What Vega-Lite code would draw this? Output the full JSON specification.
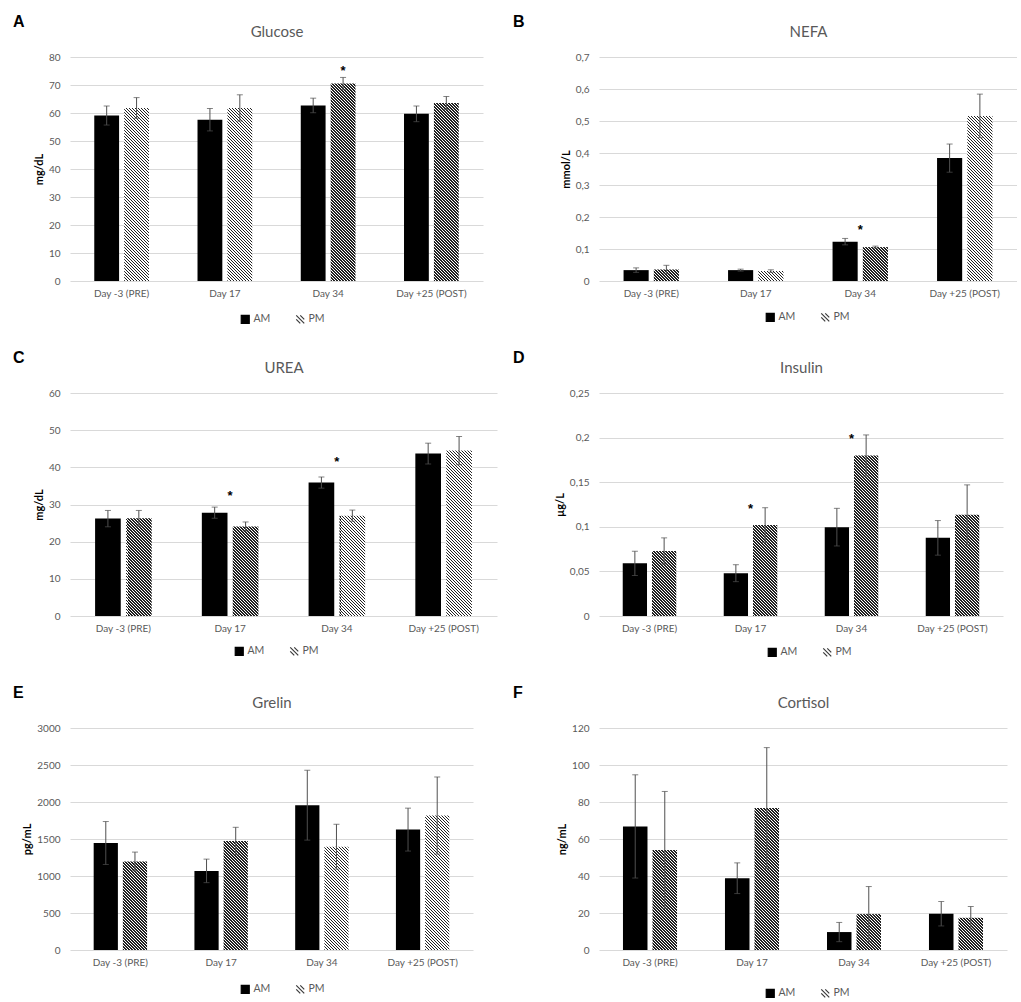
{
  "$schema": "https://vega.github.io/schema/vega-lite/v6.json",
  "padding": {"left": 13, "top": 14, "right": 0, "bottom": 0},
  "autosize": {"type": "pad"},
  "params": [
    {
      "name": "hatch",
      "value": [
        {"offset":0,"color":"#222"},{"offset":0.005,"color":"#222"},{"offset":0.005,"color":"#fff"},{"offset":0.01,"color":"#fff"},
        {"offset":0.01,"color":"#222"},{"offset":0.015,"color":"#222"},{"offset":0.015,"color":"#fff"},{"offset":0.02,"color":"#fff"},
        {"offset":0.02,"color":"#222"},{"offset":0.025,"color":"#222"},{"offset":0.025,"color":"#fff"},{"offset":0.03,"color":"#fff"},
        {"offset":0.03,"color":"#222"},{"offset":0.035,"color":"#222"},{"offset":0.035,"color":"#fff"},{"offset":0.04,"color":"#fff"},
        {"offset":0.04,"color":"#222"},{"offset":0.045,"color":"#222"},{"offset":0.045,"color":"#fff"},{"offset":0.05,"color":"#fff"},
        {"offset":0.05,"color":"#222"},{"offset":0.055,"color":"#222"},{"offset":0.055,"color":"#fff"},{"offset":0.06,"color":"#fff"},
        {"offset":0.06,"color":"#222"},{"offset":0.065,"color":"#222"},{"offset":0.065,"color":"#fff"},{"offset":0.07,"color":"#fff"},
        {"offset":0.07,"color":"#222"},{"offset":0.075,"color":"#222"},{"offset":0.075,"color":"#fff"},{"offset":0.08,"color":"#fff"},
        {"offset":0.08,"color":"#222"},{"offset":0.085,"color":"#222"},{"offset":0.085,"color":"#fff"},{"offset":0.09,"color":"#fff"},
        {"offset":0.09,"color":"#222"},{"offset":0.095,"color":"#222"},{"offset":0.095,"color":"#fff"},{"offset":0.1,"color":"#fff"},
        {"offset":0.1,"color":"#222"},{"offset":0.105,"color":"#222"},{"offset":0.105,"color":"#fff"},{"offset":0.11,"color":"#fff"},
        {"offset":0.11,"color":"#222"},{"offset":0.115,"color":"#222"},{"offset":0.115,"color":"#fff"},{"offset":0.12,"color":"#fff"},
        {"offset":0.12,"color":"#222"},{"offset":0.125,"color":"#222"},{"offset":0.125,"color":"#fff"},{"offset":0.13,"color":"#fff"},
        {"offset":0.13,"color":"#222"},{"offset":0.135,"color":"#222"},{"offset":0.135,"color":"#fff"},{"offset":0.14,"color":"#fff"},
        {"offset":0.14,"color":"#222"},{"offset":0.145,"color":"#222"},{"offset":0.145,"color":"#fff"},{"offset":0.15,"color":"#fff"},
        {"offset":0.15,"color":"#222"},{"offset":0.155,"color":"#222"},{"offset":0.155,"color":"#fff"},{"offset":0.16,"color":"#fff"},
        {"offset":0.16,"color":"#222"},{"offset":0.165,"color":"#222"},{"offset":0.165,"color":"#fff"},{"offset":0.17,"color":"#fff"},
        {"offset":0.17,"color":"#222"},{"offset":0.175,"color":"#222"},{"offset":0.175,"color":"#fff"},{"offset":0.18,"color":"#fff"},
        {"offset":0.18,"color":"#222"},{"offset":0.185,"color":"#222"},{"offset":0.185,"color":"#fff"},{"offset":0.19,"color":"#fff"},
        {"offset":0.19,"color":"#222"},{"offset":0.195,"color":"#222"},{"offset":0.195,"color":"#fff"},{"offset":0.2,"color":"#fff"},
        {"offset":0.2,"color":"#222"},{"offset":0.205,"color":"#222"},{"offset":0.205,"color":"#fff"},{"offset":0.21,"color":"#fff"},
        {"offset":0.21,"color":"#222"},{"offset":0.215,"color":"#222"},{"offset":0.215,"color":"#fff"},{"offset":0.22,"color":"#fff"},
        {"offset":0.22,"color":"#222"},{"offset":0.225,"color":"#222"},{"offset":0.225,"color":"#fff"},{"offset":0.23,"color":"#fff"},
        {"offset":0.23,"color":"#222"},{"offset":0.235,"color":"#222"},{"offset":0.235,"color":"#fff"},{"offset":0.24,"color":"#fff"},
        {"offset":0.24,"color":"#222"},{"offset":0.245,"color":"#222"},{"offset":0.245,"color":"#fff"},{"offset":0.25,"color":"#fff"},
        {"offset":0.25,"color":"#222"},{"offset":0.255,"color":"#222"},{"offset":0.255,"color":"#fff"},{"offset":0.26,"color":"#fff"},
        {"offset":0.26,"color":"#222"},{"offset":0.265,"color":"#222"},{"offset":0.265,"color":"#fff"},{"offset":0.27,"color":"#fff"},
        {"offset":0.27,"color":"#222"},{"offset":0.275,"color":"#222"},{"offset":0.275,"color":"#fff"},{"offset":0.28,"color":"#fff"},
        {"offset":0.28,"color":"#222"},{"offset":0.285,"color":"#222"},{"offset":0.285,"color":"#fff"},{"offset":0.29,"color":"#fff"},
        {"offset":0.29,"color":"#222"},{"offset":0.295,"color":"#222"},{"offset":0.295,"color":"#fff"},{"offset":0.3,"color":"#fff"},
        {"offset":0.3,"color":"#222"},{"offset":0.305,"color":"#222"},{"offset":0.305,"color":"#fff"},{"offset":0.31,"color":"#fff"},
        {"offset":0.31,"color":"#222"},{"offset":0.315,"color":"#222"},{"offset":0.315,"color":"#fff"},{"offset":0.32,"color":"#fff"},
        {"offset":0.32,"color":"#222"},{"offset":0.325,"color":"#222"},{"offset":0.325,"color":"#fff"},{"offset":0.33,"color":"#fff"},
        {"offset":0.33,"color":"#222"},{"offset":0.335,"color":"#222"},{"offset":0.335,"color":"#fff"},{"offset":0.34,"color":"#fff"},
        {"offset":0.34,"color":"#222"},{"offset":0.345,"color":"#222"},{"offset":0.345,"color":"#fff"},{"offset":0.35,"color":"#fff"},
        {"offset":0.35,"color":"#222"},{"offset":0.355,"color":"#222"},{"offset":0.355,"color":"#fff"},{"offset":0.36,"color":"#fff"},
        {"offset":0.36,"color":"#222"},{"offset":0.365,"color":"#222"},{"offset":0.365,"color":"#fff"},{"offset":0.37,"color":"#fff"},
        {"offset":0.37,"color":"#222"},{"offset":0.375,"color":"#222"},{"offset":0.375,"color":"#fff"},{"offset":0.38,"color":"#fff"},
        {"offset":0.38,"color":"#222"},{"offset":0.385,"color":"#222"},{"offset":0.385,"color":"#fff"},{"offset":0.39,"color":"#fff"},
        {"offset":0.39,"color":"#222"},{"offset":0.395,"color":"#222"},{"offset":0.395,"color":"#fff"},{"offset":0.4,"color":"#fff"},
        {"offset":0.4,"color":"#222"},{"offset":0.405,"color":"#222"},{"offset":0.405,"color":"#fff"},{"offset":0.41,"color":"#fff"},
        {"offset":0.41,"color":"#222"},{"offset":0.415,"color":"#222"},{"offset":0.415,"color":"#fff"},{"offset":0.42,"color":"#fff"},
        {"offset":0.42,"color":"#222"},{"offset":0.425,"color":"#222"},{"offset":0.425,"color":"#fff"},{"offset":0.43,"color":"#fff"},
        {"offset":0.43,"color":"#222"},{"offset":0.435,"color":"#222"},{"offset":0.435,"color":"#fff"},{"offset":0.44,"color":"#fff"},
        {"offset":0.44,"color":"#222"},{"offset":0.445,"color":"#222"},{"offset":0.445,"color":"#fff"},{"offset":0.45,"color":"#fff"},
        {"offset":0.45,"color":"#222"},{"offset":0.455,"color":"#222"},{"offset":0.455,"color":"#fff"},{"offset":0.46,"color":"#fff"},
        {"offset":0.46,"color":"#222"},{"offset":0.465,"color":"#222"},{"offset":0.465,"color":"#fff"},{"offset":0.47,"color":"#fff"},
        {"offset":0.47,"color":"#222"},{"offset":0.475,"color":"#222"},{"offset":0.475,"color":"#fff"},{"offset":0.48,"color":"#fff"},
        {"offset":0.48,"color":"#222"},{"offset":0.485,"color":"#222"},{"offset":0.485,"color":"#fff"},{"offset":0.49,"color":"#fff"},
        {"offset":0.49,"color":"#222"},{"offset":0.495,"color":"#222"},{"offset":0.495,"color":"#fff"},{"offset":0.5,"color":"#fff"},
        {"offset":0.5,"color":"#222"},{"offset":0.505,"color":"#222"},{"offset":0.505,"color":"#fff"},{"offset":0.51,"color":"#fff"},
        {"offset":0.51,"color":"#222"},{"offset":0.515,"color":"#222"},{"offset":0.515,"color":"#fff"},{"offset":0.52,"color":"#fff"},
        {"offset":0.52,"color":"#222"},{"offset":0.525,"color":"#222"},{"offset":0.525,"color":"#fff"},{"offset":0.53,"color":"#fff"},
        {"offset":0.53,"color":"#222"},{"offset":0.535,"color":"#222"},{"offset":0.535,"color":"#fff"},{"offset":0.54,"color":"#fff"},
        {"offset":0.54,"color":"#222"},{"offset":0.545,"color":"#222"},{"offset":0.545,"color":"#fff"},{"offset":0.55,"color":"#fff"},
        {"offset":0.55,"color":"#222"},{"offset":0.555,"color":"#222"},{"offset":0.555,"color":"#fff"},{"offset":0.56,"color":"#fff"},
        {"offset":0.56,"color":"#222"},{"offset":0.565,"color":"#222"},{"offset":0.565,"color":"#fff"},{"offset":0.57,"color":"#fff"},
        {"offset":0.57,"color":"#222"},{"offset":0.575,"color":"#222"},{"offset":0.575,"color":"#fff"},{"offset":0.58,"color":"#fff"},
        {"offset":0.58,"color":"#222"},{"offset":0.585,"color":"#222"},{"offset":0.585,"color":"#fff"},{"offset":0.59,"color":"#fff"},
        {"offset":0.59,"color":"#222"},{"offset":0.595,"color":"#222"},{"offset":0.595,"color":"#fff"},{"offset":0.6,"color":"#fff"},
        {"offset":0.6,"color":"#222"},{"offset":0.605,"color":"#222"},{"offset":0.605,"color":"#fff"},{"offset":0.61,"color":"#fff"},
        {"offset":0.61,"color":"#222"},{"offset":0.615,"color":"#222"},{"offset":0.615,"color":"#fff"},{"offset":0.62,"color":"#fff"},
        {"offset":0.62,"color":"#222"},{"offset":0.625,"color":"#222"},{"offset":0.625,"color":"#fff"},{"offset":0.63,"color":"#fff"},
        {"offset":0.63,"color":"#222"},{"offset":0.635,"color":"#222"},{"offset":0.635,"color":"#fff"},{"offset":0.64,"color":"#fff"},
        {"offset":0.64,"color":"#222"},{"offset":0.645,"color":"#222"},{"offset":0.645,"color":"#fff"},{"offset":0.65,"color":"#fff"},
        {"offset":0.65,"color":"#222"},{"offset":0.655,"color":"#222"},{"offset":0.655,"color":"#fff"},{"offset":0.66,"color":"#fff"},
        {"offset":0.66,"color":"#222"},{"offset":0.665,"color":"#222"},{"offset":0.665,"color":"#fff"},{"offset":0.67,"color":"#fff"},
        {"offset":0.67,"color":"#222"},{"offset":0.675,"color":"#222"},{"offset":0.675,"color":"#fff"},{"offset":0.68,"color":"#fff"},
        {"offset":0.68,"color":"#222"},{"offset":0.685,"color":"#222"},{"offset":0.685,"color":"#fff"},{"offset":0.69,"color":"#fff"},
        {"offset":0.69,"color":"#222"},{"offset":0.695,"color":"#222"},{"offset":0.695,"color":"#fff"},{"offset":0.7,"color":"#fff"},
        {"offset":0.7,"color":"#222"},{"offset":0.705,"color":"#222"},{"offset":0.705,"color":"#fff"},{"offset":0.71,"color":"#fff"},
        {"offset":0.71,"color":"#222"},{"offset":0.715,"color":"#222"},{"offset":0.715,"color":"#fff"},{"offset":0.72,"color":"#fff"},
        {"offset":0.72,"color":"#222"},{"offset":0.725,"color":"#222"},{"offset":0.725,"color":"#fff"},{"offset":0.73,"color":"#fff"},
        {"offset":0.73,"color":"#222"},{"offset":0.735,"color":"#222"},{"offset":0.735,"color":"#fff"},{"offset":0.74,"color":"#fff"},
        {"offset":0.74,"color":"#222"},{"offset":0.745,"color":"#222"},{"offset":0.745,"color":"#fff"},{"offset":0.75,"color":"#fff"},
        {"offset":0.75,"color":"#222"},{"offset":0.755,"color":"#222"},{"offset":0.755,"color":"#fff"},{"offset":0.76,"color":"#fff"},
        {"offset":0.76,"color":"#222"},{"offset":0.765,"color":"#222"},{"offset":0.765,"color":"#fff"},{"offset":0.77,"color":"#fff"},
        {"offset":0.77,"color":"#222"},{"offset":0.775,"color":"#222"},{"offset":0.775,"color":"#fff"},{"offset":0.78,"color":"#fff"},
        {"offset":0.78,"color":"#222"},{"offset":0.785,"color":"#222"},{"offset":0.785,"color":"#fff"},{"offset":0.79,"color":"#fff"},
        {"offset":0.79,"color":"#222"},{"offset":0.795,"color":"#222"},{"offset":0.795,"color":"#fff"},{"offset":0.8,"color":"#fff"}
      ]
    }
  ],
  "datasets": {
    "glucose": [
      {"day": "Day -3 (PRE)", "time": "AM", "value": 59.1, "lo": 55.7, "hi": 62.5},
      {"day": "Day -3 (PRE)", "time": "PM", "value": 61.8, "lo": 58.1, "hi": 65.5},
      {"day": "Day 17", "time": "AM", "value": 57.6, "lo": 53.6, "hi": 61.6},
      {"day": "Day 17", "time": "PM", "value": 61.8, "lo": 57.1, "hi": 66.5},
      {"day": "Day 34", "time": "AM", "value": 62.7, "lo": 60.1, "hi": 65.3},
      {"day": "Day 34", "time": "PM", "value": 70.5, "lo": 68.3, "hi": 72.7},
      {"day": "Day +25 (POST)", "time": "AM", "value": 59.7, "lo": 56.9, "hi": 62.5},
      {"day": "Day +25 (POST)", "time": "PM", "value": 63.6, "lo": 61.3, "hi": 65.9}
    ],
    "nefa": [
      {"day": "Day -3 (PRE)", "time": "AM", "value": 0.034, "lo": 0.027, "hi": 0.041},
      {"day": "Day -3 (PRE)", "time": "PM", "value": 0.036, "lo": 0.023, "hi": 0.049},
      {"day": "Day 17", "time": "AM", "value": 0.034, "lo": 0.031, "hi": 0.037},
      {"day": "Day 17", "time": "PM", "value": 0.031, "lo": 0.027, "hi": 0.035},
      {"day": "Day 34", "time": "AM", "value": 0.123, "lo": 0.113, "hi": 0.133},
      {"day": "Day 34", "time": "PM", "value": 0.106, "lo": 0.103, "hi": 0.109},
      {"day": "Day +25 (POST)", "time": "AM", "value": 0.384, "lo": 0.34, "hi": 0.428},
      {"day": "Day +25 (POST)", "time": "PM", "value": 0.516, "lo": 0.448, "hi": 0.584}
    ],
    "urea": [
      {"day": "Day -3 (PRE)", "time": "AM", "value": 26.2, "lo": 24.0, "hi": 28.4},
      {"day": "Day -3 (PRE)", "time": "PM", "value": 26.3, "lo": 24.2, "hi": 28.4},
      {"day": "Day 17", "time": "AM", "value": 27.8, "lo": 26.3, "hi": 29.3},
      {"day": "Day 17", "time": "PM", "value": 24.1, "lo": 22.9, "hi": 25.3},
      {"day": "Day 34", "time": "AM", "value": 35.9, "lo": 34.4, "hi": 37.4},
      {"day": "Day 34", "time": "PM", "value": 27.0, "lo": 25.5, "hi": 28.5},
      {"day": "Day +25 (POST)", "time": "AM", "value": 43.7, "lo": 40.9, "hi": 46.5},
      {"day": "Day +25 (POST)", "time": "PM", "value": 44.5, "lo": 40.7, "hi": 48.3}
    ],
    "insulin": [
      {"day": "Day -3 (PRE)", "time": "AM", "value": 0.059, "lo": 0.0454, "hi": 0.0726},
      {"day": "Day -3 (PRE)", "time": "PM", "value": 0.0729, "lo": 0.0582, "hi": 0.0876},
      {"day": "Day 17", "time": "AM", "value": 0.048, "lo": 0.0385, "hi": 0.0575},
      {"day": "Day 17", "time": "PM", "value": 0.1019, "lo": 0.0824, "hi": 0.1214},
      {"day": "Day 34", "time": "AM", "value": 0.0996, "lo": 0.0785, "hi": 0.1207},
      {"day": "Day 34", "time": "PM", "value": 0.18, "lo": 0.157, "hi": 0.203},
      {"day": "Day +25 (POST)", "time": "AM", "value": 0.0876, "lo": 0.0682, "hi": 0.107},
      {"day": "Day +25 (POST)", "time": "PM", "value": 0.1135, "lo": 0.08, "hi": 0.147}
    ],
    "grelin": [
      {"day": "Day -3 (PRE)", "time": "AM", "value": 1446, "lo": 1156, "hi": 1736},
      {"day": "Day -3 (PRE)", "time": "PM", "value": 1196, "lo": 1069, "hi": 1323},
      {"day": "Day 17", "time": "AM", "value": 1069, "lo": 910, "hi": 1228},
      {"day": "Day 17", "time": "PM", "value": 1473, "lo": 1288, "hi": 1658},
      {"day": "Day 34", "time": "AM", "value": 1957, "lo": 1485, "hi": 2429},
      {"day": "Day 34", "time": "PM", "value": 1396, "lo": 1093, "hi": 1699},
      {"day": "Day +25 (POST)", "time": "AM", "value": 1627, "lo": 1337, "hi": 1917},
      {"day": "Day +25 (POST)", "time": "PM", "value": 1817, "lo": 1296, "hi": 2338}
    ],
    "cortisol": [
      {"day": "Day -3 (PRE)", "time": "AM", "value": 66.8, "lo": 38.9, "hi": 94.7},
      {"day": "Day -3 (PRE)", "time": "PM", "value": 54.1, "lo": 22.5, "hi": 85.7},
      {"day": "Day 17", "time": "AM", "value": 38.8, "lo": 30.5, "hi": 47.1},
      {"day": "Day 17", "time": "PM", "value": 76.7, "lo": 44.0, "hi": 109.4},
      {"day": "Day 34", "time": "AM", "value": 9.7, "lo": 4.5, "hi": 14.9},
      {"day": "Day 34", "time": "PM", "value": 19.4, "lo": 4.5, "hi": 34.3},
      {"day": "Day +25 (POST)", "time": "AM", "value": 19.6, "lo": 13.0, "hi": 26.2},
      {"day": "Day +25 (POST)", "time": "PM", "value": 17.4, "lo": 11.3, "hi": 23.5}
    ],
    "stars": [
      {"panel": "glucose", "day": "Day 34", "time": "PM", "value": 75.9},
      {"panel": "nefa", "day": "Day 34", "time": "PM", "value": 0.17},
      {"panel": "urea", "day": "Day 17", "time": "PM", "value": 33.2},
      {"panel": "urea", "day": "Day 34", "time": "PM", "value": 42.2},
      {"panel": "insulin", "day": "Day 17", "time": "PM", "value": 0.123},
      {"panel": "insulin", "day": "Day 34", "time": "PM", "value": 0.2015}
    ]
  },
  "concat": [
    {
      "title": {"text": "A", "dx": -57},
      "width": 413,
      "height": 224,
      "data": {"name": "glucose"},
      "layer": [
        {
          "mark": {"type": "bar"},
          "encoding": {
            "x": {"field": "day", "type": "nominal", "scale": {"domain": ["Day -3 (PRE)", "Day 17", "Day 34", "Day +25 (POST)"], "paddingInner": 0.47, "paddingOuter": 0.235}, "axis": {"orient": "bottom", "title": null}},
            "xOffset": {"field": "time", "type": "nominal", "scale": {"domain": ["AM", "PM"], "paddingInner": 0.17, "paddingOuter": 0}},
            "y": {"field": "value", "type": "quantitative", "scale": {"domain": [0, 80], "nice": false}, "axis": {"title": "mg/dL", "values": [0, 10, 20, 30, 40, 50, 60, 70, 80], "labelExpr": "replace(format(datum.value, ''), '.', ',')"}},
            "fill": {"field": "time", "type": "nominal", "scale": {"domain": ["AM", "PM"], "range": ["#000000", "transparent"]}, "legend": {"title": null, "legendX": 170, "legendY": 257}}
          }
        },
        {
          "transform": [{"filter": "datum.time === 'PM'"}],
          "mark": {"type": "bar", "fill": {"expr": "{gradient: 'linear', x1: 0, y1: 1, x2: 300*24.8/(615.04+pow(datum.value*2.8,2)), y2: 1-300*datum.value*2.8/(615.04+pow(datum.value*2.8,2)), stops: hatch}"}},
          "encoding": {
            "x": {"field": "day", "type": "nominal", "axis": {"orient": "top", "title": "Glucose", "labels": false}},
            "xOffset": {"field": "time", "type": "nominal"},
            "y": {"field": "value", "type": "quantitative", "axis": {"title": "mg/dL", "values": [0, 10, 20, 30, 40, 50, 60, 70, 80], "labelExpr": "replace(format(datum.value, ''), '.', ',')"}}
          }
        },
        {
          "mark": {"type": "rule", "color": "#505050"},
          "encoding": {
            "x": {"field": "day", "type": "nominal", "axis": null},
            "xOffset": {"field": "time", "type": "nominal"},
            "y": {"field": "lo", "type": "quantitative", "axis": {"title": "mg/dL", "values": [0, 10, 20, 30, 40, 50, 60, 70, 80], "labelExpr": "replace(format(datum.value, ''), '.', ',')"}},
            "y2": {"field": "hi"}
          }
        },
        {
          "mark": {"type": "tick", "size": 6, "thickness": 1, "color": "#505050"},
          "encoding": {
            "x": {"field": "day", "type": "nominal", "axis": null},
            "xOffset": {"field": "time", "type": "nominal"},
            "y": {"field": "hi", "type": "quantitative", "axis": {"title": "mg/dL", "values": [0, 10, 20, 30, 40, 50, 60, 70, 80], "labelExpr": "replace(format(datum.value, ''), '.', ',')"}}
          }
        },
        {
          "mark": {"type": "tick", "size": 6, "thickness": 1, "color": "#505050"},
          "encoding": {
            "x": {"field": "day", "type": "nominal", "axis": null},
            "xOffset": {"field": "time", "type": "nominal"},
            "y": {"field": "lo", "type": "quantitative", "axis": {"title": "mg/dL", "values": [0, 10, 20, 30, 40, 50, 60, 70, 80], "labelExpr": "replace(format(datum.value, ''), '.', ',')"}}
          }
        },
        {
          "data": {"name": "stars"},
          "transform": [{"filter": "datum.panel === 'glucose'"}],
          "mark": {"type": "text", "text": "*", "font": "Liberation Sans", "fontSize": 13, "fontWeight": "bold", "dy": 3, "color": "#000000"},
          "encoding": {
            "x": {"field": "day", "type": "nominal", "axis": null},
            "xOffset": {"field": "time", "type": "nominal"},
            "y": {"field": "value", "type": "quantitative", "axis": {"title": "mg/dL", "values": [0, 10, 20, 30, 40, 50, 60, 70, 80], "labelExpr": "replace(format(datum.value, ''), '.', ',')"}}
          }
        },
        {
          "transform": [{"filter": "false"}],
          "mark": {"type": "point"},
          "encoding": {
            "x": {"field": "day", "type": "nominal", "axis": null},
            "y": {"field": "value", "type": "quantitative", "axis": {"title": "mg/dL", "values": [0, 10, 20, 30, 40, 50, 60, 70, 80], "labelExpr": "replace(format(datum.value, ''), '.', ',')"}},
            "shape": {"field": "time", "type": "nominal", "scale": {"domain": ["AM", "PM"], "range": ["square", "M-1,-1L1,1M0,-1L1,0M-1,0L0,1"]}, "legend": {"title": null, "legendX": 170, "legendY": 257}},
            "stroke": {"field": "time", "type": "nominal", "scale": {"domain": ["AM", "PM"], "range": ["#000000", "#3a3a3a"]}, "legend": {"title": null, "legendX": 170, "legendY": 257}}
          }
        }
      ]
    },
    {
      "title": {"text": "B", "dx": -86},
      "width": 418,
      "height": 224,
      "data": {"name": "nefa"},
      "layer": [
        {
          "mark": {"type": "bar"},
          "encoding": {
            "x": {"field": "day", "type": "nominal", "scale": {"domain": ["Day -3 (PRE)", "Day 17", "Day 34", "Day +25 (POST)"], "paddingInner": 0.47, "paddingOuter": 0.235}, "axis": {"orient": "bottom", "title": null}},
            "xOffset": {"field": "time", "type": "nominal", "scale": {"domain": ["AM", "PM"], "paddingInner": 0.17, "paddingOuter": 0}},
            "y": {"field": "value", "type": "quantitative", "scale": {"domain": [0, 0.7], "nice": false}, "axis": {"title": "mmol/L", "values": [0, 0.1, 0.2, 0.3, 0.4, 0.5, 0.6, 0.7], "labelExpr": "replace(format(datum.value, ''), '.', ',')"}},
            "fill": {"field": "time", "type": "nominal", "scale": {"domain": ["AM", "PM"], "range": ["#000000", "transparent"]}, "legend": {"title": null, "legendX": 166, "legendY": 255}}
          }
        },
        {
          "transform": [{"filter": "datum.time === 'PM'"}],
          "mark": {"type": "bar", "fill": {"expr": "{gradient: 'linear', x1: 0, y1: 1, x2: 300*25.1/(630+pow(datum.value*320,2)), y2: 1-300*datum.value*320/(630+pow(datum.value*320,2)), stops: hatch}"}},
          "encoding": {
            "x": {"field": "day", "type": "nominal", "axis": {"orient": "top", "title": "NEFA", "labels": false}},
            "xOffset": {"field": "time", "type": "nominal"},
            "y": {"field": "value", "type": "quantitative", "axis": {"title": "mmol/L", "values": [0, 0.1, 0.2, 0.3, 0.4, 0.5, 0.6, 0.7], "labelExpr": "replace(format(datum.value, ''), '.', ',')"}}
          }
        },
        {
          "mark": {"type": "rule", "color": "#505050"},
          "encoding": {
            "x": {"field": "day", "type": "nominal", "axis": null},
            "xOffset": {"field": "time", "type": "nominal"},
            "y": {"field": "lo", "type": "quantitative", "axis": {"title": "mmol/L", "values": [0, 0.1, 0.2, 0.3, 0.4, 0.5, 0.6, 0.7], "labelExpr": "replace(format(datum.value, ''), '.', ',')"}},
            "y2": {"field": "hi"}
          }
        },
        {
          "mark": {"type": "tick", "size": 6, "thickness": 1, "color": "#505050"},
          "encoding": {
            "x": {"field": "day", "type": "nominal", "axis": null},
            "xOffset": {"field": "time", "type": "nominal"},
            "y": {"field": "hi", "type": "quantitative", "axis": {"title": "mmol/L", "values": [0, 0.1, 0.2, 0.3, 0.4, 0.5, 0.6, 0.7], "labelExpr": "replace(format(datum.value, ''), '.', ',')"}}
          }
        },
        {
          "mark": {"type": "tick", "size": 6, "thickness": 1, "color": "#505050"},
          "encoding": {
            "x": {"field": "day", "type": "nominal", "axis": null},
            "xOffset": {"field": "time", "type": "nominal"},
            "y": {"field": "lo", "type": "quantitative", "axis": {"title": "mmol/L", "values": [0, 0.1, 0.2, 0.3, 0.4, 0.5, 0.6, 0.7], "labelExpr": "replace(format(datum.value, ''), '.', ',')"}}
          }
        },
        {
          "data": {"name": "stars"},
          "transform": [{"filter": "datum.panel === 'nefa'"}],
          "mark": {"type": "text", "text": "*", "font": "Liberation Sans", "fontSize": 13, "fontWeight": "bold", "dy": 3, "color": "#000000"},
          "encoding": {
            "x": {"field": "day", "type": "nominal", "axis": null},
            "y": {"field": "value", "type": "quantitative", "axis": {"title": "mmol/L", "values": [0, 0.1, 0.2, 0.3, 0.4, 0.5, 0.6, 0.7], "labelExpr": "replace(format(datum.value, ''), '.', ',')"}}
          }
        },
        {
          "transform": [{"filter": "false"}],
          "mark": {"type": "point"},
          "encoding": {
            "x": {"field": "day", "type": "nominal", "axis": null},
            "y": {"field": "value", "type": "quantitative", "axis": {"title": "mmol/L", "values": [0, 0.1, 0.2, 0.3, 0.4, 0.5, 0.6, 0.7], "labelExpr": "replace(format(datum.value, ''), '.', ',')"}},
            "shape": {"field": "time", "type": "nominal", "scale": {"domain": ["AM", "PM"], "range": ["square", "M-1,-1L1,1M0,-1L1,0M-1,0L0,1"]}, "legend": {"title": null, "legendX": 166, "legendY": 255}},
            "stroke": {"field": "time", "type": "nominal", "scale": {"domain": ["AM", "PM"], "range": ["#000000", "#3a3a3a"]}, "legend": {"title": null, "legendX": 166, "legendY": 255}}
          }
        }
      ]
    },
    {
      "title": {"text": "C", "dx": -57},
      "width": 427,
      "height": 223,
      "data": {"name": "urea"},
      "layer": [
        {
          "mark": {"type": "bar"},
          "encoding": {
            "x": {"field": "day", "type": "nominal", "scale": {"domain": ["Day -3 (PRE)", "Day 17", "Day 34", "Day +25 (POST)"], "paddingInner": 0.47, "paddingOuter": 0.235}, "axis": {"orient": "bottom", "title": null}},
            "xOffset": {"field": "time", "type": "nominal", "scale": {"domain": ["AM", "PM"], "paddingInner": 0.17, "paddingOuter": 0}},
            "y": {"field": "value", "type": "quantitative", "scale": {"domain": [0, 60], "nice": false}, "axis": {"title": "mg/dL", "values": [0, 10, 20, 30, 40, 50, 60], "labelExpr": "replace(format(datum.value, ''), '.', ',')"}},
            "fill": {"field": "time", "type": "nominal", "scale": {"domain": ["AM", "PM"], "range": ["#000000", "transparent"]}, "legend": {"title": null, "legendX": 164, "legendY": 253}}
          }
        },
        {
          "transform": [{"filter": "datum.time === 'PM'"}],
          "mark": {"type": "bar", "fill": {"expr": "{gradient: 'linear', x1: 0, y1: 1, x2: 300*25.7/(660.49+pow(datum.value*3.7167,2)), y2: 1-300*datum.value*3.7167/(660.49+pow(datum.value*3.7167,2)), stops: hatch}"}},
          "encoding": {
            "x": {"field": "day", "type": "nominal", "axis": {"orient": "top", "title": "UREA", "labels": false}},
            "xOffset": {"field": "time", "type": "nominal"},
            "y": {"field": "value", "type": "quantitative", "axis": {"title": "mg/dL", "values": [0, 10, 20, 30, 40, 50, 60], "labelExpr": "replace(format(datum.value, ''), '.', ',')"}}
          }
        },
        {
          "mark": {"type": "rule", "color": "#505050"},
          "encoding": {
            "x": {"field": "day", "type": "nominal", "axis": null},
            "xOffset": {"field": "time", "type": "nominal"},
            "y": {"field": "lo", "type": "quantitative", "axis": {"title": "mg/dL", "values": [0, 10, 20, 30, 40, 50, 60], "labelExpr": "replace(format(datum.value, ''), '.', ',')"}},
            "y2": {"field": "hi"}
          }
        },
        {
          "mark": {"type": "tick", "size": 6, "thickness": 1, "color": "#505050"},
          "encoding": {
            "x": {"field": "day", "type": "nominal", "axis": null},
            "xOffset": {"field": "time", "type": "nominal"},
            "y": {"field": "hi", "type": "quantitative", "axis": {"title": "mg/dL", "values": [0, 10, 20, 30, 40, 50, 60], "labelExpr": "replace(format(datum.value, ''), '.', ',')"}}
          }
        },
        {
          "mark": {"type": "tick", "size": 6, "thickness": 1, "color": "#505050"},
          "encoding": {
            "x": {"field": "day", "type": "nominal", "axis": null},
            "xOffset": {"field": "time", "type": "nominal"},
            "y": {"field": "lo", "type": "quantitative", "axis": {"title": "mg/dL", "values": [0, 10, 20, 30, 40, 50, 60], "labelExpr": "replace(format(datum.value, ''), '.', ',')"}}
          }
        },
        {
          "data": {"name": "stars"},
          "transform": [{"filter": "datum.panel === 'urea'"}],
          "mark": {"type": "text", "text": "*", "font": "Liberation Sans", "fontSize": 13, "fontWeight": "bold", "dy": 3, "color": "#000000"},
          "encoding": {
            "x": {"field": "day", "type": "nominal", "axis": null},
            "y": {"field": "value", "type": "quantitative", "axis": {"title": "mg/dL", "values": [0, 10, 20, 30, 40, 50, 60], "labelExpr": "replace(format(datum.value, ''), '.', ',')"}}
          }
        },
        {
          "transform": [{"filter": "false"}],
          "mark": {"type": "point"},
          "encoding": {
            "x": {"field": "day", "type": "nominal", "axis": null},
            "y": {"field": "value", "type": "quantitative", "axis": {"title": "mg/dL", "values": [0, 10, 20, 30, 40, 50, 60], "labelExpr": "replace(format(datum.value, ''), '.', ',')"}},
            "shape": {"field": "time", "type": "nominal", "scale": {"domain": ["AM", "PM"], "range": ["square", "M-1,-1L1,1M0,-1L1,0M-1,0L0,1"]}, "legend": {"title": null, "legendX": 164, "legendY": 253}},
            "stroke": {"field": "time", "type": "nominal", "scale": {"domain": ["AM", "PM"], "range": ["#000000", "#3a3a3a"]}, "legend": {"title": null, "legendX": 164, "legendY": 253}}
          }
        }
      ]
    },
    {
      "title": {"text": "D", "dx": -86},
      "width": 404,
      "height": 223,
      "data": {"name": "insulin"},
      "layer": [
        {
          "mark": {"type": "bar"},
          "encoding": {
            "x": {"field": "day", "type": "nominal", "scale": {"domain": ["Day -3 (PRE)", "Day 17", "Day 34", "Day +25 (POST)"], "paddingInner": 0.47, "paddingOuter": 0.235}, "axis": {"orient": "bottom", "title": null}},
            "xOffset": {"field": "time", "type": "nominal", "scale": {"domain": ["AM", "PM"], "paddingInner": 0.17, "paddingOuter": 0}},
            "y": {"field": "value", "type": "quantitative", "scale": {"domain": [0, 0.25], "nice": false}, "axis": {"title": "µg/L", "values": [0, 0.05, 0.1, 0.15, 0.2, 0.25], "labelExpr": "replace(format(datum.value, ''), '.', ',')"}},
            "fill": {"field": "time", "type": "nominal", "scale": {"domain": ["AM", "PM"], "range": ["#000000", "transparent"]}, "legend": {"title": null, "legendX": 168, "legendY": 254}}
          }
        },
        {
          "transform": [{"filter": "datum.time === 'PM'"}],
          "mark": {"type": "bar", "fill": {"expr": "{gradient: 'linear', x1: 0, y1: 1, x2: 300*24.3/(590.49+pow(datum.value*892,2)), y2: 1-300*datum.value*892/(590.49+pow(datum.value*892,2)), stops: hatch}"}},
          "encoding": {
            "x": {"field": "day", "type": "nominal", "axis": {"orient": "top", "title": "Insulin", "labels": false}},
            "xOffset": {"field": "time", "type": "nominal"},
            "y": {"field": "value", "type": "quantitative", "axis": {"title": "µg/L", "values": [0, 0.05, 0.1, 0.15, 0.2, 0.25], "labelExpr": "replace(format(datum.value, ''), '.', ',')"}}
          }
        },
        {
          "mark": {"type": "rule", "color": "#505050"},
          "encoding": {
            "x": {"field": "day", "type": "nominal", "axis": null},
            "xOffset": {"field": "time", "type": "nominal"},
            "y": {"field": "lo", "type": "quantitative", "axis": {"title": "µg/L", "values": [0, 0.05, 0.1, 0.15, 0.2, 0.25], "labelExpr": "replace(format(datum.value, ''), '.', ',')"}},
            "y2": {"field": "hi"}
          }
        },
        {
          "mark": {"type": "tick", "size": 6, "thickness": 1, "color": "#505050"},
          "encoding": {
            "x": {"field": "day", "type": "nominal", "axis": null},
            "xOffset": {"field": "time", "type": "nominal"},
            "y": {"field": "hi", "type": "quantitative", "axis": {"title": "µg/L", "values": [0, 0.05, 0.1, 0.15, 0.2, 0.25], "labelExpr": "replace(format(datum.value, ''), '.', ',')"}}
          }
        },
        {
          "mark": {"type": "tick", "size": 6, "thickness": 1, "color": "#505050"},
          "encoding": {
            "x": {"field": "day", "type": "nominal", "axis": null},
            "xOffset": {"field": "time", "type": "nominal"},
            "y": {"field": "lo", "type": "quantitative", "axis": {"title": "µg/L", "values": [0, 0.05, 0.1, 0.15, 0.2, 0.25], "labelExpr": "replace(format(datum.value, ''), '.', ',')"}}
          }
        },
        {
          "data": {"name": "stars"},
          "transform": [{"filter": "datum.panel === 'insulin'"}],
          "mark": {"type": "text", "text": "*", "font": "Liberation Sans", "fontSize": 13, "fontWeight": "bold", "dy": 3, "color": "#000000"},
          "encoding": {
            "x": {"field": "day", "type": "nominal", "axis": null},
            "y": {"field": "value", "type": "quantitative", "axis": {"title": "µg/L", "values": [0, 0.05, 0.1, 0.15, 0.2, 0.25], "labelExpr": "replace(format(datum.value, ''), '.', ',')"}}
          }
        },
        {
          "transform": [{"filter": "false"}],
          "mark": {"type": "point"},
          "encoding": {
            "x": {"field": "day", "type": "nominal", "axis": null},
            "y": {"field": "value", "type": "quantitative", "axis": {"title": "µg/L", "values": [0, 0.05, 0.1, 0.15, 0.2, 0.25], "labelExpr": "replace(format(datum.value, ''), '.', ',')"}},
            "shape": {"field": "time", "type": "nominal", "scale": {"domain": ["AM", "PM"], "range": ["square", "M-1,-1L1,1M0,-1L1,0M-1,0L0,1"]}, "legend": {"title": null, "legendX": 168, "legendY": 254}},
            "stroke": {"field": "time", "type": "nominal", "scale": {"domain": ["AM", "PM"], "range": ["#000000", "#3a3a3a"]}, "legend": {"title": null, "legendX": 168, "legendY": 254}}
          }
        }
      ]
    },
    {
      "title": {"text": "E", "dx": -57},
      "width": 403,
      "height": 222,
      "data": {"name": "grelin"},
      "layer": [
        {
          "mark": {"type": "bar"},
          "encoding": {
            "x": {"field": "day", "type": "nominal", "scale": {"domain": ["Day -3 (PRE)", "Day 17", "Day 34", "Day +25 (POST)"], "paddingInner": 0.47, "paddingOuter": 0.235}, "axis": {"orient": "bottom", "title": null}},
            "xOffset": {"field": "time", "type": "nominal", "scale": {"domain": ["AM", "PM"], "paddingInner": 0.17, "paddingOuter": 0}},
            "y": {"field": "value", "type": "quantitative", "scale": {"domain": [0, 3000], "nice": false}, "axis": {"title": "pg/mL", "values": [0, 500, 1000, 1500, 2000, 2500, 3000], "labelExpr": "replace(format(datum.value, ''), '.', ',')"}},
            "fill": {"field": "time", "type": "nominal", "scale": {"domain": ["AM", "PM"], "range": ["#000000", "transparent"]}, "legend": {"title": null, "legendX": 170, "legendY": 256}}
          }
        },
        {
          "transform": [{"filter": "datum.time === 'PM'"}],
          "mark": {"type": "bar", "fill": {"expr": "{gradient: 'linear', x1: 0, y1: 1, x2: 300*24.2/(585.64+pow(datum.value*0.074,2)), y2: 1-300*datum.value*0.074/(585.64+pow(datum.value*0.074,2)), stops: hatch}"}},
          "encoding": {
            "x": {"field": "day", "type": "nominal", "axis": {"orient": "top", "title": "Grelin", "labels": false}},
            "xOffset": {"field": "time", "type": "nominal"},
            "y": {"field": "value", "type": "quantitative", "axis": {"title": "pg/mL", "values": [0, 500, 1000, 1500, 2000, 2500, 3000], "labelExpr": "replace(format(datum.value, ''), '.', ',')"}}
          }
        },
        {
          "mark": {"type": "rule", "color": "#505050"},
          "encoding": {
            "x": {"field": "day", "type": "nominal", "axis": null},
            "xOffset": {"field": "time", "type": "nominal"},
            "y": {"field": "lo", "type": "quantitative", "axis": {"title": "pg/mL", "values": [0, 500, 1000, 1500, 2000, 2500, 3000], "labelExpr": "replace(format(datum.value, ''), '.', ',')"}},
            "y2": {"field": "hi"}
          }
        },
        {
          "mark": {"type": "tick", "size": 6, "thickness": 1, "color": "#505050"},
          "encoding": {
            "x": {"field": "day", "type": "nominal", "axis": null},
            "xOffset": {"field": "time", "type": "nominal"},
            "y": {"field": "hi", "type": "quantitative", "axis": {"title": "pg/mL", "values": [0, 500, 1000, 1500, 2000, 2500, 3000], "labelExpr": "replace(format(datum.value, ''), '.', ',')"}}
          }
        },
        {
          "mark": {"type": "tick", "size": 6, "thickness": 1, "color": "#505050"},
          "encoding": {
            "x": {"field": "day", "type": "nominal", "axis": null},
            "xOffset": {"field": "time", "type": "nominal"},
            "y": {"field": "lo", "type": "quantitative", "axis": {"title": "pg/mL", "values": [0, 500, 1000, 1500, 2000, 2500, 3000], "labelExpr": "replace(format(datum.value, ''), '.', ',')"}}
          }
        },
        {
          "transform": [{"filter": "false"}],
          "mark": {"type": "point"},
          "encoding": {
            "x": {"field": "day", "type": "nominal", "axis": null},
            "y": {"field": "value", "type": "quantitative", "axis": {"title": "pg/mL", "values": [0, 500, 1000, 1500, 2000, 2500, 3000], "labelExpr": "replace(format(datum.value, ''), '.', ',')"}},
            "shape": {"field": "time", "type": "nominal", "scale": {"domain": ["AM", "PM"], "range": ["square", "M-1,-1L1,1M0,-1L1,0M-1,0L0,1"]}, "legend": {"title": null, "legendX": 170, "legendY": 256}},
            "stroke": {"field": "time", "type": "nominal", "scale": {"domain": ["AM", "PM"], "range": ["#000000", "#3a3a3a"]}, "legend": {"title": null, "legendX": 170, "legendY": 256}}
          }
        }
      ]
    },
    {
      "title": {"text": "F", "dx": -86},
      "width": 408,
      "height": 222,
      "data": {"name": "cortisol"},
      "layer": [
        {
          "mark": {"type": "bar"},
          "encoding": {
            "x": {"field": "day", "type": "nominal", "scale": {"domain": ["Day -3 (PRE)", "Day 17", "Day 34", "Day +25 (POST)"], "paddingInner": 0.47, "paddingOuter": 0.235}, "axis": {"orient": "bottom", "title": null}},
            "xOffset": {"field": "time", "type": "nominal", "scale": {"domain": ["AM", "PM"], "paddingInner": 0.17, "paddingOuter": 0}},
            "y": {"field": "value", "type": "quantitative", "scale": {"domain": [0, 120], "nice": false}, "axis": {"title": "ng/mL", "values": [0, 20, 40, 60, 80, 100, 120], "labelExpr": "replace(format(datum.value, ''), '.', ',')"}},
            "fill": {"field": "time", "type": "nominal", "scale": {"domain": ["AM", "PM"], "range": ["#000000", "transparent"]}, "legend": {"title": null, "legendX": 166, "legendY": 260}}
          }
        },
        {
          "transform": [{"filter": "datum.time === 'PM'"}],
          "mark": {"type": "bar", "fill": {"expr": "{gradient: 'linear', x1: 0, y1: 1, x2: 300*24.5/(600.25+pow(datum.value*1.85,2)), y2: 1-300*datum.value*1.85/(600.25+pow(datum.value*1.85,2)), stops: hatch}"}},
          "encoding": {
            "x": {"field": "day", "type": "nominal", "axis": {"orient": "top", "title": "Cortisol", "labels": false}},
            "xOffset": {"field": "time", "type": "nominal"},
            "y": {"field": "value", "type": "quantitative", "axis": {"title": "ng/mL", "values": [0, 20, 40, 60, 80, 100, 120], "labelExpr": "replace(format(datum.value, ''), '.', ',')"}}
          }
        },
        {
          "mark": {"type": "rule", "color": "#505050"},
          "encoding": {
            "x": {"field": "day", "type": "nominal", "axis": null},
            "xOffset": {"field": "time", "type": "nominal"},
            "y": {"field": "lo", "type": "quantitative", "axis": {"title": "ng/mL", "values": [0, 20, 40, 60, 80, 100, 120], "labelExpr": "replace(format(datum.value, ''), '.', ',')"}},
            "y2": {"field": "hi"}
          }
        },
        {
          "mark": {"type": "tick", "size": 6, "thickness": 1, "color": "#505050"},
          "encoding": {
            "x": {"field": "day", "type": "nominal", "axis": null},
            "xOffset": {"field": "time", "type": "nominal"},
            "y": {"field": "hi", "type": "quantitative", "axis": {"title": "ng/mL", "values": [0, 20, 40, 60, 80, 100, 120], "labelExpr": "replace(format(datum.value, ''), '.', ',')"}}
          }
        },
        {
          "mark": {"type": "tick", "size": 6, "thickness": 1, "color": "#505050"},
          "encoding": {
            "x": {"field": "day", "type": "nominal", "axis": null},
            "xOffset": {"field": "time", "type": "nominal"},
            "y": {"field": "lo", "type": "quantitative", "axis": {"title": "ng/mL", "values": [0, 20, 40, 60, 80, 100, 120], "labelExpr": "replace(format(datum.value, ''), '.', ',')"}}
          }
        },
        {
          "transform": [{"filter": "false"}],
          "mark": {"type": "point"},
          "encoding": {
            "x": {"field": "day", "type": "nominal", "axis": null},
            "y": {"field": "value", "type": "quantitative", "axis": {"title": "ng/mL", "values": [0, 20, 40, 60, 80, 100, 120], "labelExpr": "replace(format(datum.value, ''), '.', ',')"}},
            "shape": {"field": "time", "type": "nominal", "scale": {"domain": ["AM", "PM"], "range": ["square", "M-1,-1L1,1M0,-1L1,0M-1,0L0,1"]}, "legend": {"title": null, "legendX": 166, "legendY": 260}},
            "stroke": {"field": "time", "type": "nominal", "scale": {"domain": ["AM", "PM"], "range": ["#000000", "#3a3a3a"]}, "legend": {"title": null, "legendX": 166, "legendY": 260}}
          }
        }
      ]
    }
  ],
  "columns": 2,
  "spacing": {"row": 112, "column": 102},
  "bounds": "flush",
  "align": "each",
  "resolve": {"scale": {"fill": "independent", "xOffset": "independent", "shape": "independent", "stroke": "independent"}},
  "config": {
    "view": {"stroke": null},
    "font": "Lato",
    "axis": {"labelFont": "Lato", "labelFontSize": 10, "labelColor": "#595959", "ticks": false, "domain": false, "titleFont": "Lato"},
    "axisX": {"grid": false, "labelPadding": 7, "labelAngle": 0},
    "axisTop": {"labels": false, "ticks": false, "domain": false, "grid": false, "titleFontSize": 15, "titleFontWeight": "normal", "titleColor": "#595959", "titlePadding": 18},
    "axisY": {"grid": true, "gridColor": "#d9d9d9", "labelPadding": 10, "labelOverlap": false, "titleFontSize": 11, "titleFontWeight": "bold", "titleColor": "#000000", "titlePadding": 4},
    "legend": {"orient": "none", "direction": "horizontal", "symbolType": "square", "symbolSize": 64, "symbolStrokeWidth": 1.2, "symbolOpacity": 1, "labelFont": "Lato", "labelFontSize": 10.5, "labelColor": "#595959", "columnPadding": 22, "labelOffset": 3},
    "title": {"font": "Liberation Sans", "fontSize": 16, "fontWeight": "bold", "color": "#000000", "anchor": "start", "frame": "group", "offset": -6}
  }
}
